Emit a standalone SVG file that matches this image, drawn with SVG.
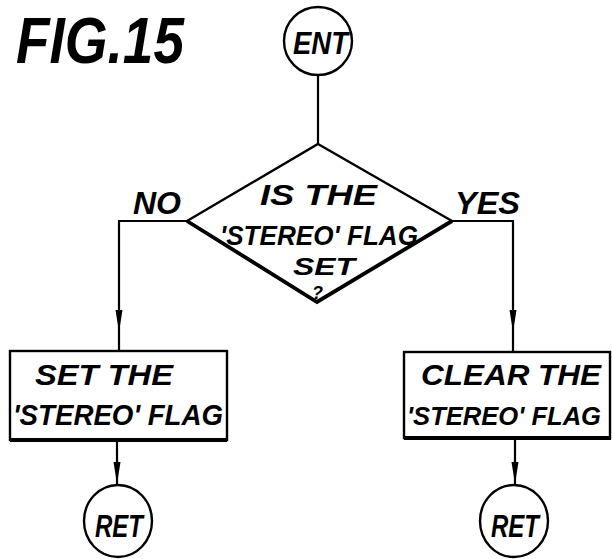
<svg xmlns="http://www.w3.org/2000/svg" width="612" height="559" viewBox="0 0 612 559">
<style>
.t{font-family:"Liberation Sans",Arial,sans-serif;font-style:italic;font-weight:bold;fill:#000}
.s{fill:none;stroke:#000;stroke-width:2.2}
.n{fill:#fff;stroke:#000;stroke-width:2.4}
</style>
<defs>
<marker id="ah" markerUnits="userSpaceOnUse" viewBox="0 -4 22 8" refX="22" refY="0" markerWidth="22" markerHeight="8" orient="auto">
<path d="M0,-3.5 L22,0 L0,3.5 Z" fill="#000"/>
</marker>
</defs>
<rect width="612" height="559" fill="#fff"/>
<text class="t" x="16" y="63" font-size="64" textLength="168" lengthAdjust="spacingAndGlyphs">FIG.15</text>
<g id="connectors">
<line class="s" x1="318" y1="75" x2="318" y2="144"/>
<path class="s" d="M187,221 H119 V332" marker-end="url(#ah)"/>
<line class="s" x1="119" y1="332" x2="119" y2="351"/>
<path class="s" d="M452,221 H513 V332" marker-end="url(#ah)"/>
<line class="s" x1="513" y1="332" x2="513" y2="352"/>
<line class="s" x1="117" y1="440" x2="117" y2="484" marker-end="url(#ah)"/>
<line class="s" x1="515" y1="438" x2="515" y2="484" marker-end="url(#ah)"/>
</g>
<text class="t" x="133" y="214" font-size="31" textLength="48" lengthAdjust="spacingAndGlyphs">NO</text>
<text class="t" x="455" y="214" font-size="31" textLength="65" lengthAdjust="spacingAndGlyphs">YES</text>
<g id="ent">
<ellipse class="n" cx="318" cy="41" rx="34" ry="34"/>
<text class="t" x="293" y="54" font-size="31" textLength="55" lengthAdjust="spacingAndGlyphs">ENT</text>
</g>
<g id="decision">
<path class="n" d="M318,144 L452,221 L317,302 L187,221 Z"/>
<path d="M452,221 L317,302 L187,221" fill="none" stroke="#000" stroke-width="3.8"/>
<text class="t" x="260" y="205" font-size="30" textLength="117" lengthAdjust="spacingAndGlyphs">IS THE</text>
<text class="t" x="220" y="245" font-size="28" textLength="198" lengthAdjust="spacingAndGlyphs">'STEREO' FLAG</text>
<text class="t" x="293" y="275" font-size="24" textLength="62" lengthAdjust="spacingAndGlyphs">SET</text>
<text class="t" x="312" y="299" font-size="18">?</text>
</g>
<g id="set">
<rect class="n" x="10" y="351" width="217" height="89"/>
<line x1="10" y1="440" x2="227" y2="440" stroke="#000" stroke-width="3.8"/>
<text class="t" x="35" y="385" font-size="30" textLength="138" lengthAdjust="spacingAndGlyphs">SET THE</text>
<text class="t" x="13" y="425" font-size="30" textLength="210" lengthAdjust="spacingAndGlyphs">'STEREO' FLAG</text>
</g>
<g id="clear">
<rect class="n" x="404" y="352" width="206" height="86"/>
<line x1="404" y1="438" x2="611" y2="438" stroke="#000" stroke-width="3.8"/>
<text class="t" x="421" y="385" font-size="30" textLength="180" lengthAdjust="spacingAndGlyphs">CLEAR THE</text>
<text class="t" x="407" y="425" font-size="26" textLength="194" lengthAdjust="spacingAndGlyphs">'STEREO' FLAG</text>
</g>
<g id="ret1">
<ellipse class="n" cx="118" cy="521" rx="34" ry="36"/>
<text class="t" x="95" y="537" font-size="31" textLength="48" lengthAdjust="spacingAndGlyphs">RET</text>
</g>
<g id="ret2">
<ellipse class="n" cx="514" cy="521" rx="34" ry="36"/>
<text class="t" x="491" y="537" font-size="31" textLength="48" lengthAdjust="spacingAndGlyphs">RET</text>
</g>
</svg>
